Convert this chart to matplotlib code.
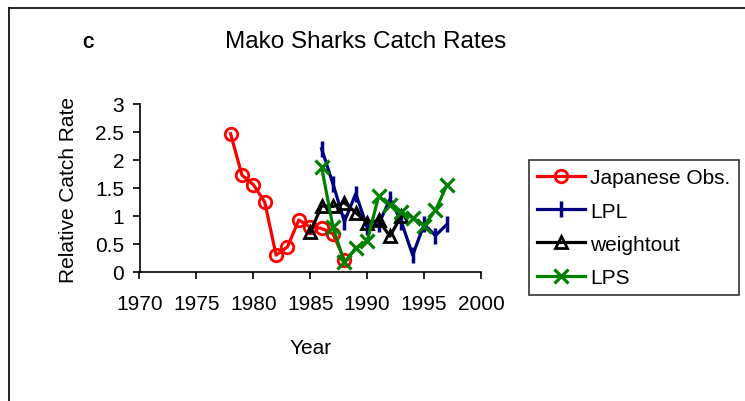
import matplotlib
matplotlib.use("Agg")
import matplotlib.pyplot as plt
from matplotlib.lines import Line2D

plt.rcParams['font.family'] = ['Liberation Sans', 'DejaVu Sans']

# Japanese observer series
jp_years = [1978, 1979, 1980, 1981, 1982, 1983, 1984, 1985, 1986, 1987, 1988]
jp_rates = [2.47, 1.73, 1.56, 1.25, 0.30, 0.45, 0.93, 0.80, 0.78, 0.68, 0.22]

# LPL series
lpl_years = [1986, 1987, 1988, 1989, 1990, 1991, 1992, 1993, 1994, 1995, 1996, 1997]
lpl_rates = [2.20, 1.57, 0.90, 1.40, 0.80, 0.85, 1.30, 0.90, 0.30, 0.85, 0.65, 0.85]

# weightout series
wo_years = [1985, 1986, 1987, 1988, 1989, 1990, 1991, 1992, 1993]
wo_rates = [0.71, 1.18, 1.17, 1.24, 1.06, 0.88, 0.92, 0.64, 1.00]

# LPS series
lps_years = [1986, 1987, 1988, 1989, 1990, 1991, 1992, 1993, 1994, 1995, 1996, 1997]
lps_rates = [1.87, 0.80, 0.17, 0.43, 0.55, 1.35, 1.20, 1.07, 0.97, 0.83, 1.10, 1.55]

x_ticks = [1970, 1975, 1980, 1985, 1990, 1995, 2000]
y_ticks = [0, 0.5, 1, 1.5, 2, 2.5, 3]
y_tick_labels = ['0', '0.5', '1', '1.5', '2', '2.5', '3']

fig = plt.figure(figsize=(7.45, 4.02), dpi=100)
W, H = 745, 402

# chart-area border (left and top edges)
fig.add_artist(Line2D([9 / W, 9 / W], [0, 1 - 9 / H], color='black', lw=1.2,
                      transform=fig.transFigure))
fig.add_artist(Line2D([9 / W, 1], [1 - 9 / H, 1 - 9 / H], color='black', lw=1.2,
                      transform=fig.transFigure))

ax = fig.add_axes([139.5 / W, 1 - 273 / H, (481 - 139.5) / W, (273 - 105) / H])

lw = 2.3
ax.plot(jp_years, jp_rates, color='#FF0000', lw=lw, marker='o', ms=9,
        mfc='none', mec='#FF0000', mew=2, label='Japanese Obs.', clip_on=False)
ax.plot(lpl_years, lpl_rates, color='#000080', lw=lw, marker='|', ms=11,
        mec='#000080', mew=2.5, label='LPL', clip_on=False)
ax.plot(wo_years, wo_rates, color='black', lw=lw, marker='^', ms=9,
        mfc='none', mec='black', mew=2, label='weightout', clip_on=False)
ax.plot(lps_years, lps_rates, color='#008000', lw=lw, marker='x', ms=10,
        mec='#008000', mew=2.3, label='LPS', clip_on=False)

ax.set_xlim(1970, 2000)
ax.set_ylim(0, 3)
ax.set_xticks(x_ticks)
ax.set_yticks(y_ticks)
ax.set_yticklabels(y_tick_labels)
ax.tick_params(axis='both', direction='out', length=5, width=1.2,
               labelsize=15)
ax.tick_params(axis='x', pad=11)
ax.tick_params(axis='y', pad=6)
for s in ['top', 'right']:
    ax.spines[s].set_visible(False)
for s in ['left', 'bottom']:
    ax.spines[s].set_linewidth(1.2)

fig.text(366 / W, 1 - 42 / H, 'Mako Sharks Catch Rates', fontsize=17.5,
         ha='center', va='center')
fig.text(88 / W, 1 - 43 / H, 'C', fontsize=12.5, fontweight='bold',
         family=['Roboto', 'DejaVu Sans'], ha='center', va='center')
fig.text(311 / W, 1 - 349 / H, 'Year', fontsize=15, ha='center', va='center')
fig.text(68 / W, 1 - 190 / H, 'Relative Catch Rate', fontsize=15,
         rotation=90, ha='center', va='center')

leg = fig.legend(loc='upper left', bbox_to_anchor=(529 / W, 1 - 161 / H),
                 bbox_transform=fig.transFigure, fontsize=15,
                 frameon=True, fancybox=False, handlelength=2.3,
                 handletextpad=0.25, labelspacing=0.68, borderpad=0.4,
                 borderaxespad=0)
leg.get_frame().set_edgecolor('black')
leg.get_frame().set_linewidth(1.2)

fig.savefig('out.png', dpi=100)
